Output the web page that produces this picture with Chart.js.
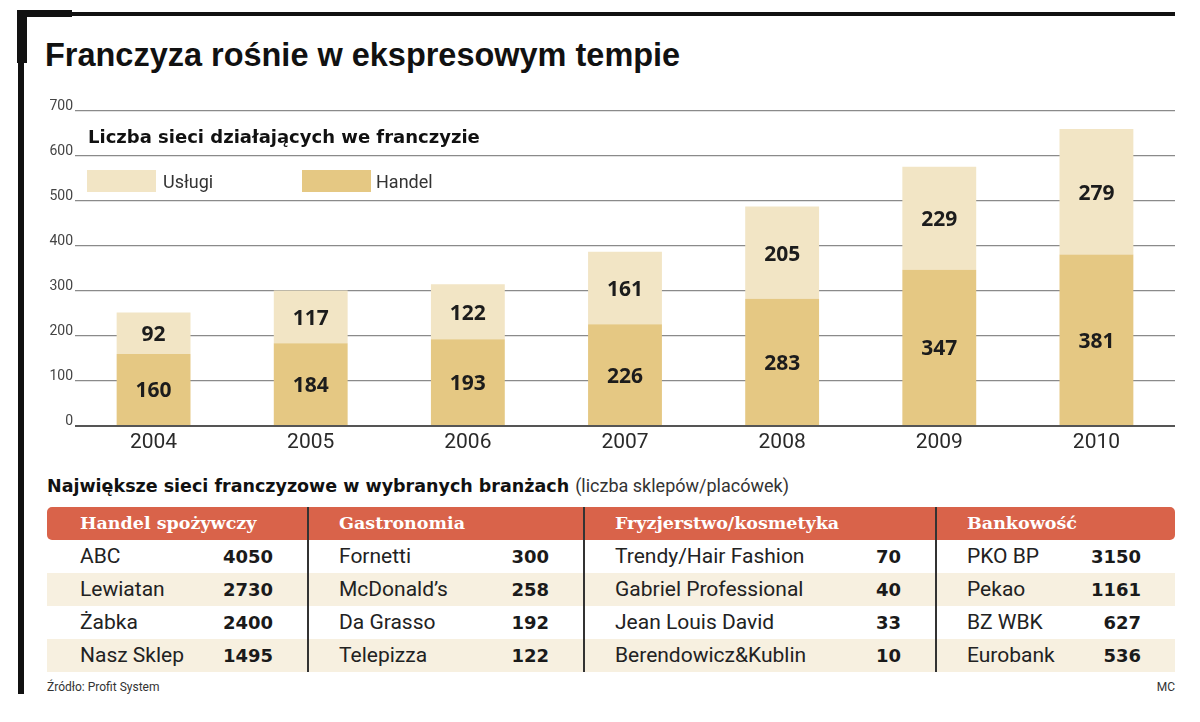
<!DOCTYPE html>
<html lang="pl">
<head>
<meta charset="utf-8">
<title>Franczyza rośnie w ekspresowym tempie</title>
<script src="https://cdn.jsdelivr.net/npm/chart.js@4.4.1/dist/chart.umd.min.js"></script>
<style>
  html, body { margin: 0; padding: 0; background: #fff; }
  body { position: relative; width: 1200px; height: 722px; overflow: hidden; font-family: Roboto, "Open Sans", sans-serif; color: #222; }
  .abs { position: absolute; }
  .ink { background: #111; }
  #title { left: 45px; top: 37px; margin: 0; font: bold 34px/1 "Liberation Sans", Arial, sans-serif; color: #111; white-space: nowrap; transform-origin: 0 0; }
  #chart-box { left: 30px; top: 90px; width: 1150px; height: 370px; }
  #subtitle { left: 88px; top: 128px; font: bold 18px/1 "DejaVu Sans", sans-serif; color: #111; white-space: nowrap; }
  .swatch { width: 69px; height: 22px; top: 170px; }
  .legend-text { top: 173px; font: 18px/1 Roboto, sans-serif; color: #333; }
  #caption { left: 47px; top: 477px; font: bold 17.5px/1 "DejaVu Sans", sans-serif; color: #111; white-space: nowrap; }
  #caption span { font: 18px/1 Roboto, sans-serif; color: #333; }
  #table { left: 47px; top: 507px; width: 1128px; display: grid; grid-template-columns: 260px 276px 352px 240px; }
  .cell { height: 33px; display: flex; align-items: center; justify-content: space-between; padding: 0 34px 0 33px; box-sizing: border-box; }
  .cell.sep { padding-left: 30px; }
  .head { background: #d9634a; color: #fff; font: bold 17.5px/1 "DejaVu Serif", serif; }
  .head.first { border-top-left-radius: 5px; border-bottom-left-radius: 5px; }
  .head.last { border-top-right-radius: 5px; border-bottom-right-radius: 5px; }
  .sep { border-left: 2px solid #333; }
  .row { font: 21px/1 Roboto, sans-serif; color: #222; }
  .row b { font: bold 18px/1 "DejaVu Sans", sans-serif; color: #1a1a1a; }
  .alt { background: #f7f0e0; }
  .foot { top: 681px; font: 12px/1 Roboto, sans-serif; color: #333; }
</style>
</head>
<body>
<!-- frame -->
<div class="abs ink" style="left:17px; top:12px; width:1158px; height:4px;"></div>
<div class="abs ink" style="left:17px; top:10px; width:55px; height:7px;"></div>
<div class="abs ink" style="left:17px; top:10px; width:10px; height:53px;"></div>
<div class="abs ink" style="left:18px; top:10px; width:6px; height:684px;"></div>

<h1 id="title" class="abs">Franczyza rośnie w ekspresowym tempie</h1>

<div id="chart-box" class="abs"><canvas id="chart"></canvas></div>

<div id="subtitle" class="abs">Liczba sieci działających we franczyzie</div>
<div class="abs swatch" style="left:87px; background:#f2e5c5;"></div>
<div class="abs legend-text" style="left:163px;">Usługi</div>
<div class="abs swatch" style="left:302px; background:#e5c883;"></div>
<div class="abs legend-text" style="left:376px;">Handel</div>

<div id="caption" class="abs">Największe sieci franczyzowe w wybranych branżach <span>(liczba sklepów/placówek)</span></div>
<div id="table" class="abs"></div>

<div class="abs foot" style="left:47px;">Źródło: Profit System</div>
<div class="abs foot" style="right:25px;">MC</div>

<script>
// Chart data
const years = ['2004', '2005', '2006', '2007', '2008', '2009', '2010'];
const handel = [160, 184, 193, 226, 283, 347, 381];
const uslugi = [92, 117, 122, 161, 205, 229, 279];
const yMax = 700;
const yStep = 100;

// Table data
const sectors = ['Handel spożywczy', 'Gastronomia', 'Fryzjerstwo/kosmetyka', 'Bankowość'];
const spozywczyNames = ['ABC', 'Lewiatan', 'Żabka', 'Nasz Sklep'];
const spozywczyCounts = [4050, 2730, 2400, 1495];
const gastroNames = ['Fornetti', 'McDonald’s', 'Da Grasso', 'Telepizza'];
const gastroCounts = [300, 258, 192, 122];
const fryzjerNames = ['Trendy/Hair Fashion', 'Gabriel Professional', 'Jean Louis David', 'Berendowicz&Kublin'];
const fryzjerCounts = [70, 40, 33, 10];
const bankNames = ['PKO BP', 'Pekao', 'BZ WBK', 'Eurobank'];
const bankCounts = [3150, 1161, 627, 536];

const LIGHT = '#f2e5c5';
const DARK = '#e5c883';

// Squeeze the headline into a condensed look
function fitTitle() {
    const el = document.getElementById('title');
    el.style.transform = 'scaleX(' + (635 / el.offsetWidth) + ')';
}

// Build the table
function buildTable() {
    const table = document.getElementById('table');
    const names = [spozywczyNames, gastroNames, fryzjerNames, bankNames];
    const counts = [spozywczyCounts, gastroCounts, fryzjerCounts, bankCounts];

    sectors.forEach((s, c) => {
        const cell = document.createElement('div');
        cell.className = 'cell head' + (c === 0 ? ' first' : '') + (c === sectors.length - 1 ? ' last' : '') + (c > 0 ? ' sep' : '');
        cell.textContent = s;
        table.appendChild(cell);
    });

    for (let r = 0; r < 4; r++) {
        for (let c = 0; c < sectors.length; c++) {
            const cell = document.createElement('div');
            cell.className = 'cell row' + (r % 2 === 1 ? ' alt' : '') + (c > 0 ? ' sep' : '');
            const name = document.createElement('span');
            name.textContent = names[c][r];
            const num = document.createElement('b');
            num.textContent = counts[c][r];
            cell.appendChild(name);
            cell.appendChild(num);
            table.appendChild(cell);
        }
    }
}

// Numbers inside the bar segments
const segmentLabels = {
    id: 'segmentLabels',
    afterDatasetsDraw(chart) {
        const ctx = chart.ctx;
        ctx.save();
        ctx.font = 'bold 21px "Open Sans", sans-serif';
        ctx.fillStyle = '#1c1c1c';
        ctx.textAlign = 'center';
        ctx.textBaseline = 'middle';
        chart.data.datasets.forEach((ds, i) => {
            chart.getDatasetMeta(i).data.forEach((bar, j) => {
                ctx.fillText(ds.data[j], bar.x, (bar.y + bar.base) / 2 + 2);
            });
        });
        ctx.restore();
    }
};

function initializeChart() {
    const ctx = document.getElementById('chart').getContext('2d');
    new Chart(ctx, {
        type: 'bar',
        data: {
            labels: years,
            datasets: [
                { label: 'Handel', data: handel, backgroundColor: DARK, stack: 's' },
                { label: 'Usługi', data: uslugi, backgroundColor: LIGHT, stack: 's' }
            ]
        },
        options: {
            responsive: true,
            maintainAspectRatio: false,
            animation: false,
            layout: { padding: { top: 21, right: 5, left: 0, bottom: 0 } },
            datasets: { bar: { categoryPercentage: 1, barPercentage: 0.47 } },
            plugins: {
                legend: { display: false },
                tooltip: { enabled: false }
            },
            scales: {
                x: {
                    stacked: true,
                    grid: { display: false },
                    border: { display: false },
                    ticks: {
                        color: '#2a2a2a',
                        font: { family: 'Roboto', size: 21 },
                        padding: -4
                    },
                    afterFit(scale) { scale.height = 34; }
                },
                y: {
                    stacked: true,
                    min: 0,
                    max: yMax,
                    border: { display: false },
                    grid: {
                        drawTicks: false,
                        color: (c) => c.tick && c.tick.value === 0 ? '#555' : '#8a8a8a',
                        lineWidth: (c) => c.tick && c.tick.value === 0 ? 2 : 1.2
                    },
                    ticks: {
                        stepSize: yStep,
                        color: '#444',
                        font: { family: 'Roboto', size: 14 },
                        padding: 2,
                        labelOffset: -5
                    },
                    afterFit(scale) { scale.width = 45; }
                }
            }
        },
        plugins: [segmentLabels]
    });
}

document.addEventListener('DOMContentLoaded', () => {
    fitTitle();
    buildTable();
    initializeChart();
});
</script>
</body>
</html>
